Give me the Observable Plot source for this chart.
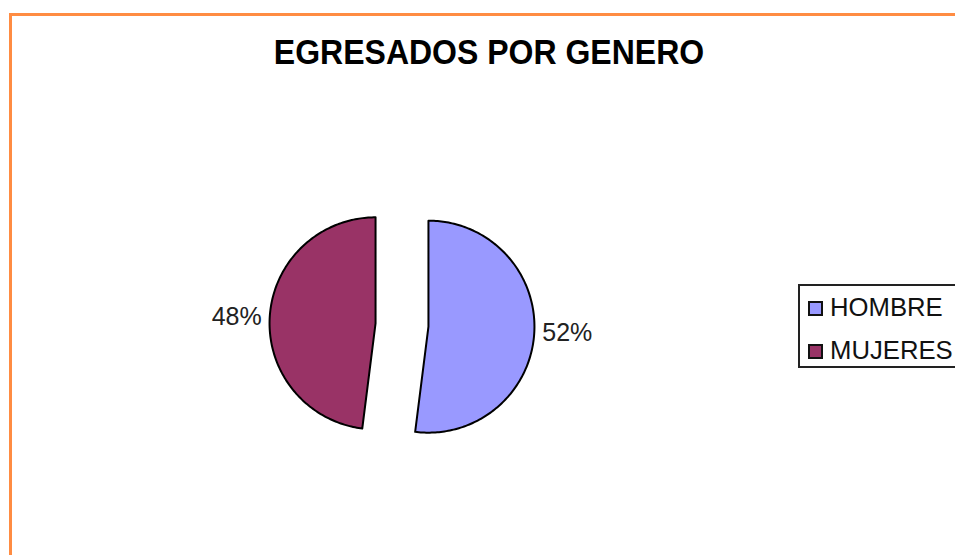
<!DOCTYPE html>
<html><head><meta charset="utf-8">
<script src="https://cdn.jsdelivr.net/npm/d3@7"></script>
<script src="https://cdn.jsdelivr.net/npm/@observablehq/plot@0.6"></script>
<style>
html,body{margin:0;padding:0;background:#fff;overflow:hidden;}
#page{position:relative;width:955px;height:555px;overflow:hidden;font-family:"Liberation Sans",Arial,sans-serif;background:#fff;}
#frame{position:absolute;left:9px;top:13px;width:1000px;height:600px;border-left:3px solid #ff8c42;border-top:3px solid #ff8c42;}
#title{position:absolute;left:0;width:978px;top:37px;text-align:center;font-weight:bold;font-size:32px;line-height:32px;color:#000;white-space:nowrap;transform:scaleY(1.08);transform-origin:50% 27px;}
#chart{position:absolute;left:0;top:0;}
#legend{position:absolute;left:798px;top:284px;width:180px;height:80px;border:2px solid #222;background:#fff;}
.row{position:relative;height:43px;line-height:43px;font-size:25.7px;color:#111;white-space:nowrap;}
.sw{position:absolute;left:8px;width:15px;height:15px;box-sizing:border-box;border:2px solid #111;}
.lt{position:absolute;left:30px;top:0;}
</style>
</head>
<body>
<div id="page">
  <div id="frame"></div>
  <div id="title"></div>
  <div id="chart"></div>
  <div id="legend"></div>
</div>
<script>
const chartTitle = "EGRESADOS POR GENERO";
const categories = ["HOMBRE", "MUJERES"];
const values = [52, 48];
const labels = ["52%", "48%"];
const colors = ["#9999ff", "#993366"];
const explode = 0.25;

const W = 955, H = 555, R = 106, cx = 401.5, cy = 324.5;

document.getElementById("title").textContent = chartTitle;

const total = d3.sum(values);
let acc = 0;
const slices = categories.map((name, i) => {
  const a0 = acc / total * 2 * Math.PI; acc += values[i];
  const a1 = acc / total * 2 * Math.PI;
  const mid = (a0 + a1) / 2;
  const ox = explode * Math.sin(mid), oy = explode * Math.cos(mid);
  const pts = [{x: ox, y: oy}];
  const n = Math.ceil((a1 - a0) / (Math.PI / 180));
  for (let k = 0; k <= n; k++) {
    const a = a0 + (a1 - a0) * k / n;
    pts.push({x: ox + Math.sin(a), y: oy + Math.cos(a)});
  }
  pts.push({x: ox, y: oy});
  return {name, color: colors[i], label: labels[i], pts,
          lx: ox + Math.sin(mid), ly: oy + Math.cos(mid),
          side: Math.sin(mid) >= 0 ? 1 : -1};
});

const marks = [];
for (const s of slices) {
  marks.push(Plot.line(s.pts, {x: "x", y: "y", fill: s.color, stroke: "#000", strokeWidth: 2, strokeLinejoin: "round"}));
}
for (const s of slices) {
  marks.push(Plot.text([s], {x: "lx", y: "ly", text: "label",
    textAnchor: s.side > 0 ? "start" : "end", dx: s.side * 8,
    fontSize: 25, fontFamily: "Liberation Sans, Arial, sans-serif", fill: "#222"}));
}

const plot = Plot.plot({
  width: W, height: H,
  marginLeft: 0, marginRight: 0, marginTop: 0, marginBottom: 0,
  x: {domain: [-cx / R, (W - cx) / R], axis: null},
  y: {domain: [-(H - cy) / R, cy / R], axis: null},
  style: {background: "transparent", overflow: "visible"},
  marks
});
document.getElementById("chart").appendChild(plot);

const legend = document.getElementById("legend");
categories.forEach((c, i) => {
  const row = document.createElement("div");
  row.className = "row";
  const sw = document.createElement("div");
  sw.className = "sw";
  sw.style.background = colors[i];
  sw.style.top = "15px";
  const lt = document.createElement("div");
  lt.className = "lt";
  lt.textContent = c;
  row.appendChild(sw); row.appendChild(lt);
  legend.appendChild(row);
});
</script>
</body></html>
